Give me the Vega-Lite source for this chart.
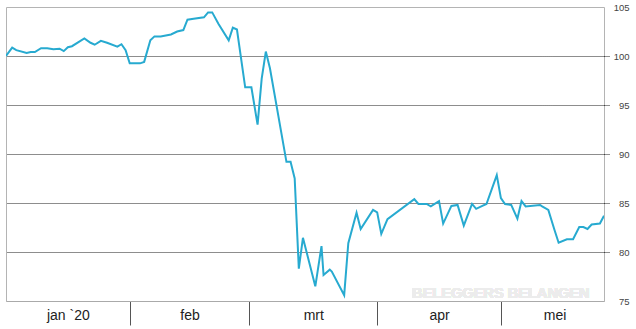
{
  "$schema": "https://vega.github.io/schema/vega-lite/v6.json",
  "width": 598,
  "height": 294,
  "autosize": {"type": "none"},
  "padding": {"left": 6, "top": 7, "right": 32, "bottom": 28},
  "background": "white",
  "config": {
    "view": {"stroke": "#b4b4b4", "strokeWidth": 1},
    "font": "Liberation Sans"
  },
  "data": {
    "values": [
      {"date": "2020-01-02T00:00:00Z", "koers": 100.0},
      {"date": "2020-01-03T12:00:00Z", "koers": 100.85},
      {"date": "2020-01-04T12:00:00Z", "koers": 100.6},
      {"date": "2020-01-07T00:00:00Z", "koers": 100.3},
      {"date": "2020-01-08T00:00:00Z", "koers": 100.4},
      {"date": "2020-01-09T00:00:00Z", "koers": 100.4},
      {"date": "2020-01-10T12:00:00Z", "koers": 100.8},
      {"date": "2020-01-12T00:00:00Z", "koers": 100.8},
      {"date": "2020-01-13T12:00:00Z", "koers": 100.7},
      {"date": "2020-01-15T00:00:00Z", "koers": 100.75},
      {"date": "2020-01-16T00:00:00Z", "koers": 100.5},
      {"date": "2020-01-17T00:00:00Z", "koers": 100.9},
      {"date": "2020-01-18T00:00:00Z", "koers": 101.0},
      {"date": "2020-01-21T00:00:00Z", "koers": 101.8},
      {"date": "2020-01-22T12:00:00Z", "koers": 101.35},
      {"date": "2020-01-23T12:00:00Z", "koers": 101.15},
      {"date": "2020-01-25T00:00:00Z", "koers": 101.55},
      {"date": "2020-01-26T12:00:00Z", "koers": 101.35},
      {"date": "2020-01-29T00:00:00Z", "koers": 100.95},
      {"date": "2020-01-30T00:00:00Z", "koers": 101.2},
      {"date": "2020-01-31T00:00:00Z", "koers": 100.6},
      {"date": "2020-02-01T00:00:00Z", "koers": 99.25},
      {"date": "2020-02-03T12:00:00Z", "koers": 99.25},
      {"date": "2020-02-04T12:00:00Z", "koers": 99.4},
      {"date": "2020-02-06T00:00:00Z", "koers": 101.6},
      {"date": "2020-02-07T00:00:00Z", "koers": 102.0},
      {"date": "2020-02-08T12:00:00Z", "koers": 102.0},
      {"date": "2020-02-11T00:00:00Z", "koers": 102.2},
      {"date": "2020-02-12T12:00:00Z", "koers": 102.5},
      {"date": "2020-02-14T00:00:00Z", "koers": 102.65},
      {"date": "2020-02-15T00:00:00Z", "koers": 103.7},
      {"date": "2020-02-16T12:00:00Z", "koers": 103.8},
      {"date": "2020-02-19T00:00:00Z", "koers": 103.95},
      {"date": "2020-02-20T00:00:00Z", "koers": 104.45},
      {"date": "2020-02-21T00:00:00Z", "koers": 104.45},
      {"date": "2020-02-22T12:00:00Z", "koers": 103.3},
      {"date": "2020-02-25T00:00:00Z", "koers": 101.6},
      {"date": "2020-02-26T00:00:00Z", "koers": 102.9},
      {"date": "2020-02-27T00:00:00Z", "koers": 102.7},
      {"date": "2020-02-29T00:00:00Z", "koers": 96.8},
      {"date": "2020-03-01T12:00:00Z", "koers": 96.8},
      {"date": "2020-03-03T00:00:00Z", "koers": 93.0},
      {"date": "2020-03-04T00:00:00Z", "koers": 97.7},
      {"date": "2020-03-05T00:00:00Z", "koers": 100.45},
      {"date": "2020-03-06T00:00:00Z", "koers": 98.75},
      {"date": "2020-03-10T00:00:00Z", "koers": 89.2},
      {"date": "2020-03-11T00:00:00Z", "koers": 89.2},
      {"date": "2020-03-12T00:00:00Z", "koers": 87.5},
      {"date": "2020-03-13T00:00:00Z", "koers": 78.3},
      {"date": "2020-03-14T00:00:00Z", "koers": 81.45},
      {"date": "2020-03-17T00:00:00Z", "koers": 76.5},
      {"date": "2020-03-18T12:00:00Z", "koers": 80.6},
      {"date": "2020-03-19T00:00:00Z", "koers": 77.65},
      {"date": "2020-03-20T12:00:00Z", "koers": 78.2},
      {"date": "2020-03-21T00:00:00Z", "koers": 78.0},
      {"date": "2020-03-24T00:00:00Z", "koers": 75.6},
      {"date": "2020-03-25T00:00:00Z", "koers": 80.9},
      {"date": "2020-03-27T00:00:00Z", "koers": 84.0},
      {"date": "2020-03-28T00:00:00Z", "koers": 82.35},
      {"date": "2020-03-31T00:00:00Z", "koers": 84.3},
      {"date": "2020-04-01T00:00:00Z", "koers": 84.05},
      {"date": "2020-04-02T00:00:00Z", "koers": 81.85},
      {"date": "2020-04-03T12:00:00Z", "koers": 83.35},
      {"date": "2020-04-10T00:00:00Z", "koers": 85.4},
      {"date": "2020-04-11T00:00:00Z", "koers": 84.9},
      {"date": "2020-04-13T00:00:00Z", "koers": 84.9},
      {"date": "2020-04-14T00:00:00Z", "koers": 84.65},
      {"date": "2020-04-16T00:00:00Z", "koers": 85.2},
      {"date": "2020-04-17T00:00:00Z", "koers": 82.9},
      {"date": "2020-04-19T00:00:00Z", "koers": 84.7},
      {"date": "2020-04-20T12:00:00Z", "koers": 84.8},
      {"date": "2020-04-22T00:00:00Z", "koers": 82.7},
      {"date": "2020-04-24T00:00:00Z", "koers": 84.9},
      {"date": "2020-04-25T00:00:00Z", "koers": 84.4},
      {"date": "2020-04-26T12:00:00Z", "koers": 84.7},
      {"date": "2020-04-27T12:00:00Z", "koers": 84.9},
      {"date": "2020-04-30T00:00:00Z", "koers": 87.85},
      {"date": "2020-05-01T00:00:00Z", "koers": 85.5},
      {"date": "2020-05-02T00:00:00Z", "koers": 84.9},
      {"date": "2020-05-03T12:00:00Z", "koers": 84.8},
      {"date": "2020-05-05T00:00:00Z", "koers": 83.4},
      {"date": "2020-05-06T00:00:00Z", "koers": 85.2},
      {"date": "2020-05-07T00:00:00Z", "koers": 84.65},
      {"date": "2020-05-10T12:00:00Z", "koers": 84.8},
      {"date": "2020-05-11T00:00:00Z", "koers": 84.65},
      {"date": "2020-05-12T12:00:00Z", "koers": 84.3},
      {"date": "2020-05-14T00:00:00Z", "koers": 82.25},
      {"date": "2020-05-15T00:00:00Z", "koers": 80.95},
      {"date": "2020-05-17T00:00:00Z", "koers": 81.3},
      {"date": "2020-05-18T12:00:00Z", "koers": 81.3},
      {"date": "2020-05-20T00:00:00Z", "koers": 82.55},
      {"date": "2020-05-21T00:00:00Z", "koers": 82.55},
      {"date": "2020-05-22T00:00:00Z", "koers": 82.35},
      {"date": "2020-05-23T00:00:00Z", "koers": 82.8},
      {"date": "2020-05-25T00:00:00Z", "koers": 82.9},
      {"date": "2020-05-26T00:00:00Z", "koers": 83.7}
    ]
  },
  "layer": [
    {
      "mark": {"type": "text", "text": "BELEGGERS BELANGEN", "align": "right", "baseline": "alphabetic", "fontSize": 14.6, "fontWeight": "bold", "color": "#ececec", "font": "Liberation Sans"},
      "encoding": {
        "x": {"datum": {"year": 2020, "month": 5, "date": 22, "hours": 12, "utc": true}, "type": "temporal"},
        "y": {"datum": 75.3, "type": "quantitative"}
      }
    },
    {
      "mark": {"type": "line", "color": "#27aad0", "strokeWidth": 2, "clip": true},
      "encoding": {
        "x": {
          "field": "date",
          "type": "temporal",
          "scale": {
            "type": "utc",
            "domain": [
              {"year": 2020, "month": 1, "date": 2, "utc": true},
              {"year": 2020, "month": 5, "date": 26, "utc": true}
            ],
            "nice": false
          },
          "axis": {
            "title": null,
            "orient": "bottom",
            "grid": false,
            "values": [
              {"year": 2020, "month": 1, "date": 17, "utc": true},
              {"year": 2020, "month": 2, "date": 1, "utc": true},
              {"year": 2020, "month": 2, "date": 15, "hours": 12, "utc": true},
              {"year": 2020, "month": 3, "date": 1, "utc": true},
              {"year": 2020, "month": 3, "date": 16, "hours": 12, "utc": true},
              {"year": 2020, "month": 4, "date": 1, "utc": true},
              {"year": 2020, "month": 4, "date": 16, "utc": true},
              {"year": 2020, "month": 5, "date": 1, "utc": true},
              {"year": 2020, "month": 5, "date": 14, "utc": true}
            ],
            "labelExpr": "utcdate(datum.value) == 1 ? '' : (utcmonth(datum.value) == 0 ? 'jan `20' : ['jan','feb','mrt','apr','mei'][utcmonth(datum.value)])",
            "tickOpacity": {"condition": {"test": "utcdate(datum.value) == 1", "value": 1}, "value": 0},
            "tickSize": 24,
            "tickColor": "#555555",
            "tickWidth": 1,
            "domainColor": "#aaaaaa",
            "labelFontSize": 14,
            "labelColor": "#222222",
            "labelFont": "Liberation Sans",
            "labelPadding": -17,
            "labelBaseline": "top",
            "labelAlign": "center",
            "labelFlush": false,
            "labelOverlap": false
          }
        },
        "y": {
          "field": "koers",
          "type": "quantitative",
          "scale": {"domain": [75, 105], "nice": false, "zero": false},
          "axis": {
            "title": null,
            "orient": "right",
            "values": [75, 80, 85, 90, 95, 100, 105],
            "domain": false,
            "grid": true,
            "gridDash": [1, 1],
            "gridColor": "#1a1a1a",
            "gridOpacity": {"condition": {"test": "datum.value == 75 || datum.value == 105", "value": 0}, "value": 1},
            "tickDash": [1, 1],
            "tickColor": "#1a1a1a",
            "tickSize": 6,
            "tickOpacity": {"condition": {"test": "datum.value == 75 || datum.value == 105", "value": 0}, "value": 1},
            "labelAlign": "right",
            "labelPadding": 19,
            "labelFontSize": 9.5,
            "labelColor": "#444444",
            "labelFont": "Liberation Sans",
            "labelBaseline": "middle",
            "labelFlush": false,
            "labelOverlap": false
          }
        }
      }
    }
  ]
}
